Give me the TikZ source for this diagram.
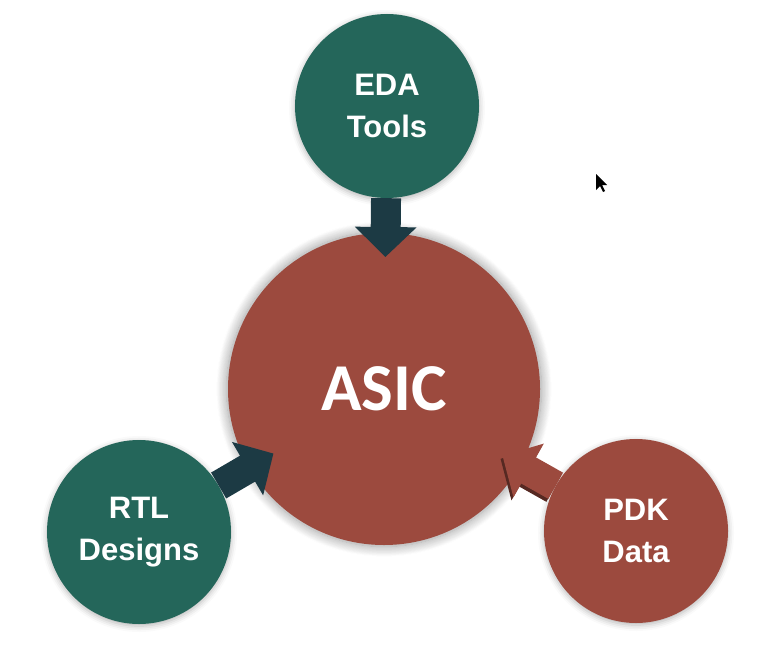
\documentclass[tikz,border=0pt]{standalone}
\usepackage{fontspec}
\setmainfont{Liberation Sans}
\newfontfamily\asicfont{Carlito}
\usetikzlibrary{arrows.meta,calc,shadows.blur}
\definecolor{pine}{RGB}{36,102,90}
\definecolor{brick}{RGB}{156,74,62}
\definecolor{ink}{RGB}{28,58,68}

\begin{document}
\begin{tikzpicture}[x=1pt,y=-1pt,
    blob/.style={circle,inner sep=0pt,minimum size=184pt,text=white,align=center,
      font=\bfseries\fontsize{31}{42}\selectfont,
      blur shadow={shadow xshift=0pt,shadow yshift=-2pt,shadow blur radius=6pt,shadow opacity=30}},
    feed/.style={line width=30pt,-{Triangle[length=30pt,width=60pt]}}]
  \useasboundingbox (0,0) rectangle (767,655);
  \node[blob,fill=brick,minimum size=312pt,font=\asicfont\bfseries\fontsize{67}{72}\selectfont,
    blur shadow={shadow xshift=0pt,shadow yshift=0pt,shadow scale=1.01,shadow blur radius=10pt,
      shadow blur steps=14,shadow opacity=22}] (asic) at (384,389) {ASIC};
  \node[blob,fill=pine] (eda) at (387,106) {EDA\\Tools};
  \node[blob,fill=pine] (rtl) at (139,532) {RTL\\Designs};
  \node[blob,fill=brick] (pdk) at (636,531) {PDK\\Data};
  \draw[feed,ink] (eda) -- ($(asic.center)!132pt!(eda.center)$);
  \draw[feed,ink] (rtl) -- ($(asic.center)!128pt!(rtl.center)$);
  \draw[feed,brick,preaction={draw=brick!55!black,feed,transform canvas={shift={(-2pt,-3pt)}}}]
    (pdk) -- ($(asic.center)!136pt!(pdk.center)$);
  % mouse pointer
  \fill (596,174) -- ++(0,16) -- ++(4,-4) -- ++(3,6) -- ++(2,-1) -- ++(-3,-6) -- ++(5,0) -- cycle;
\end{tikzpicture}
\end{document}
